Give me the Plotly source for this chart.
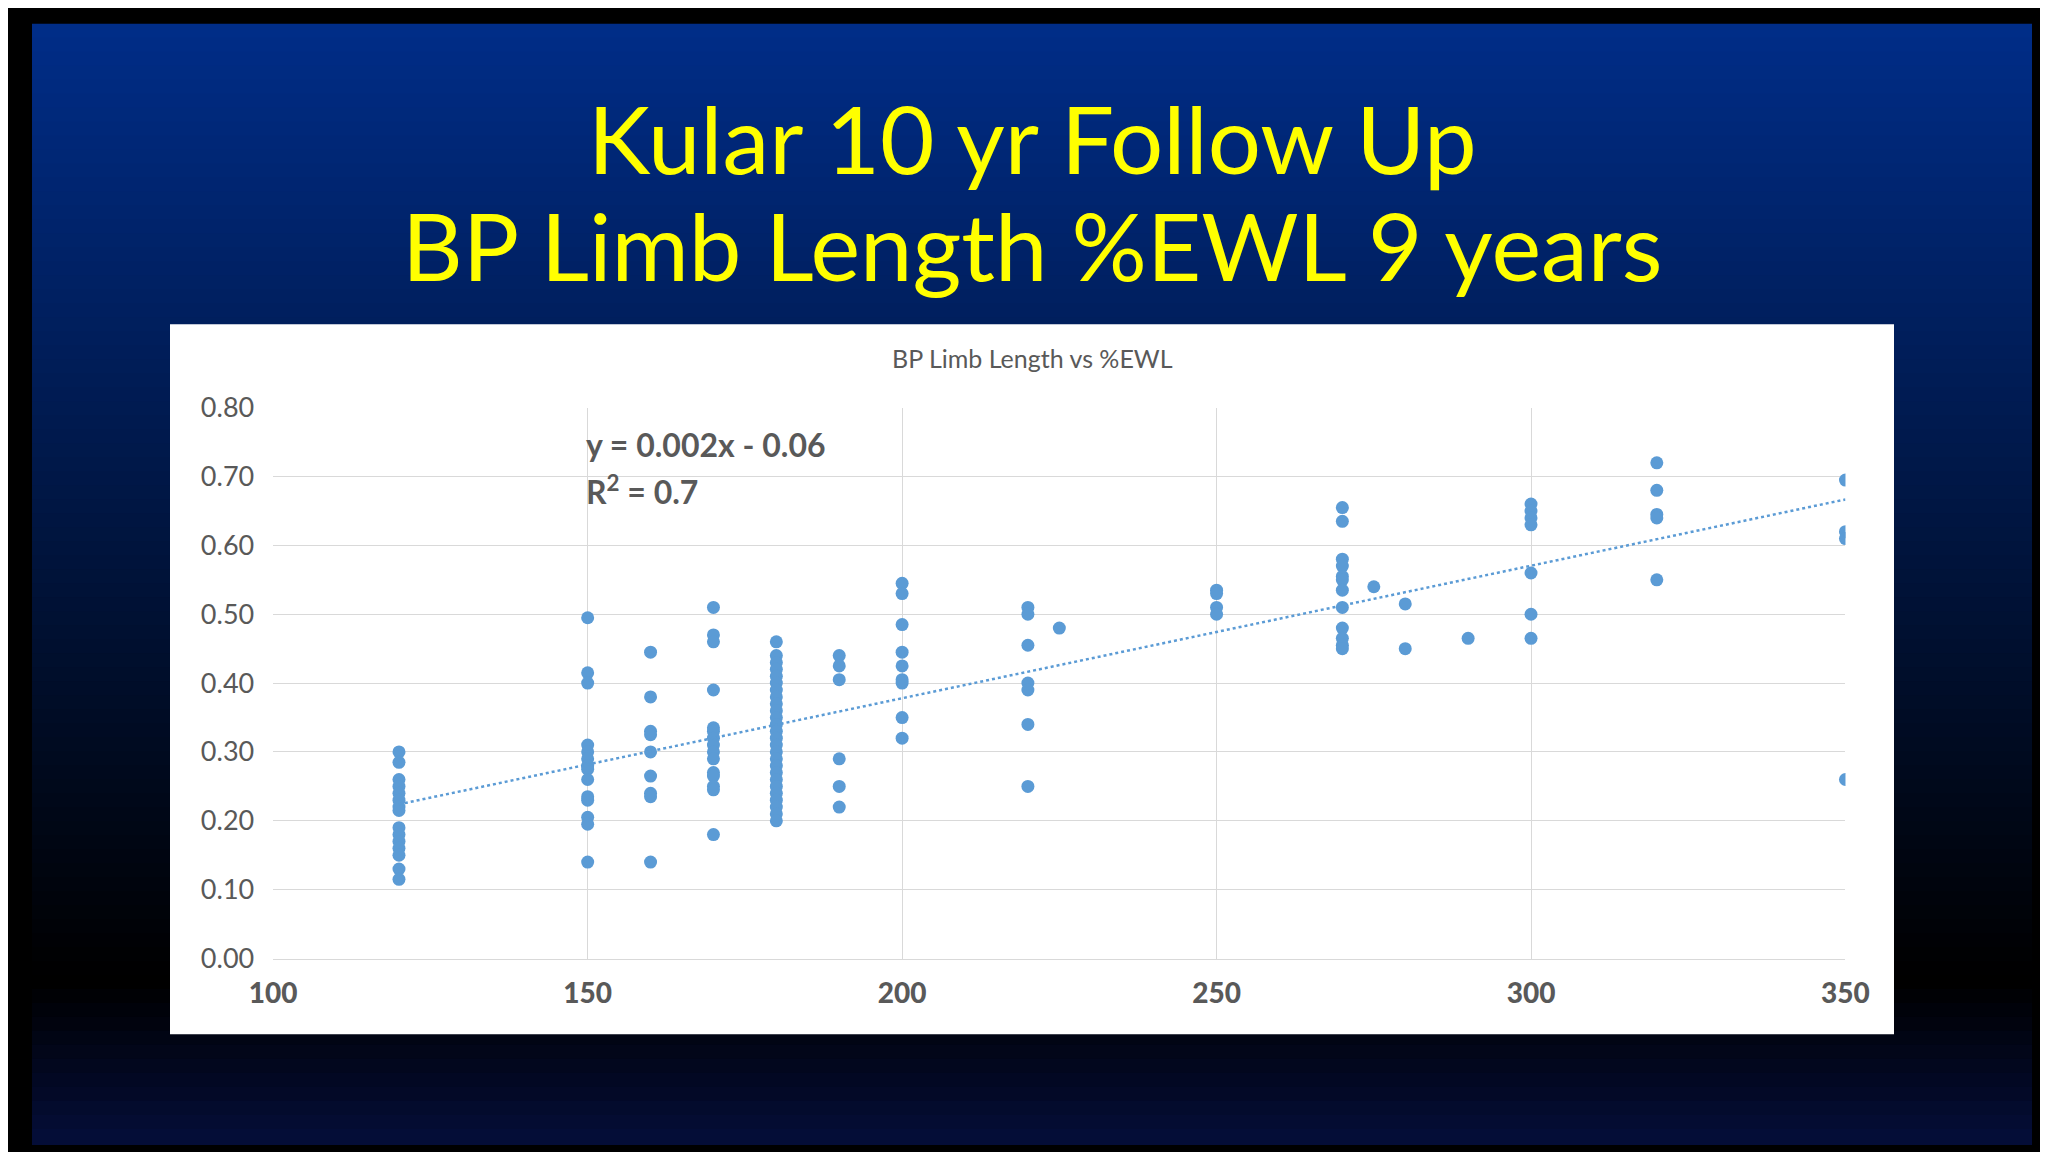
import numpy as np
import plotly.graph_objects as go

# limb length groups (cm) and %EWL values
x120 = [0.30, 0.285, 0.26, 0.25, 0.24, 0.23, 0.22, 0.215, 0.19, 0.18, 0.17, 0.16, 0.15, 0.13, 0.115]
x150 = [0.495, 0.415, 0.40, 0.31, 0.30, 0.29, 0.28, 0.275, 0.26, 0.235, 0.23, 0.205, 0.195, 0.14]
x160 = [0.445, 0.38, 0.33, 0.325, 0.30, 0.265, 0.24, 0.235, 0.14]
x170 = [0.51, 0.47, 0.46, 0.39, 0.335, 0.33, 0.32, 0.31, 0.30, 0.29, 0.27, 0.265, 0.25, 0.245, 0.18]
x180 = [0.46, 0.44, 0.43, 0.42, 0.41, 0.40, 0.39, 0.38, 0.37, 0.36, 0.35, 0.34, 0.33, 0.32,
        0.31, 0.30, 0.29, 0.28, 0.27, 0.26, 0.25, 0.24, 0.23, 0.22, 0.21, 0.20]
x190 = [0.44, 0.425, 0.405, 0.29, 0.25, 0.22]
x200 = [0.545, 0.53, 0.485, 0.445, 0.425, 0.405, 0.40, 0.35, 0.32]
x220 = [0.51, 0.50, 0.455, 0.40, 0.39, 0.34, 0.25]
x225 = [0.48]
x250 = [0.535, 0.53, 0.51, 0.50]
x270 = [0.655, 0.635, 0.58, 0.57, 0.555, 0.55, 0.535, 0.51, 0.48, 0.465, 0.455, 0.45]
x275 = [0.54]
x280 = [0.515, 0.45]
x290 = [0.465]
x300 = [0.66, 0.65, 0.64, 0.63, 0.56, 0.50, 0.465]
x320 = [0.72, 0.68, 0.645, 0.64, 0.55]
x350 = [0.695, 0.62, 0.61, 0.26]

groups = {120: x120, 150: x150, 160: x160, 170: x170, 180: x180, 190: x190, 200: x200,
          220: x220, 225: x225, 250: x250, 270: x270, 275: x275, 280: x280, 290: x290,
          300: x300, 320: x320, 350: x350}

xs, ys = [], []
for k, vals in groups.items():
    xs += [k] * len(vals)
    ys += vals

slope, icept = np.polyfit(xs, ys, 1)
tx = [min(xs), max(xs)]
ty = [slope * v + icept for v in tx]

blue = "#5B9BD5"
fig = go.Figure()
fig.add_trace(go.Scatter(x=xs, y=ys, mode="markers",
                         marker=dict(color=blue, size=13), showlegend=False))
fig.add_trace(go.Scatter(x=tx, y=ty, mode="lines",
                         line=dict(color=blue, width=2.5, dash="dot"), showlegend=False))

# slide background gradient: blue -> black -> dark blue
shapes = []
n = 80
for i in range(n):
    t = i / n  # 0 at top
    if t < 0.85:
        f = t / 0.85
        c = (0, int(45 * (1 - f)), int(135 * (1 - f)))
    else:
        f = (t - 0.85) / 0.15
        c = (int(5 * f), int(15 * f), int(60 * f))
    shapes.append(dict(type="rect", xref="paper", yref="paper", layer="below",
                       x0=0, x1=1, y0=1 - (i + 1) / n, y1=1 - i / n + 0.002,
                       fillcolor="rgb(%d,%d,%d)" % c, line=dict(width=0)))
shapes.append(dict(type="rect", xref="paper", yref="paper", layer="below",
                   x0=0.069, x1=0.931, y0=0.099, y1=0.7335,
                   fillcolor="white", line=dict(width=0)))

fig.update_layout(
    width=2048, height=1152,
    margin=dict(l=0, r=0, t=0, b=0),
    paper_bgcolor="black", plot_bgcolor="white",
    shapes=shapes,
    font=dict(family="Lato", color="#595959"),
    xaxis=dict(domain=[247 / 2048, 1857 / 2048], range=[100, 350], dtick=50,
               showgrid=True, gridcolor="#D9D9D9",
               zeroline=False, showline=True, linecolor="#D9D9D9",
               tickfont=dict(size=28, color="#595959", family="Lato Black"),
               ticks="", ticklabelstandoff=10),
    yaxis=dict(domain=[192 / 1152, 759 / 1152], range=[0, 0.8], dtick=0.1, tickformat=".2f",
               showgrid=True, gridcolor="#D9D9D9", zeroline=False, showline=False,
               tickfont=dict(size=27, color="#595959"), ticklabelstandoff=18),
    annotations=[
        dict(text="Kular 10 yr Follow Up", xref="paper", yref="paper", x=0.5, y=1 - 115 / 1152,
             showarrow=False, font=dict(size=94, color="#FFFF00", family="Lato"), yanchor="middle"),
        dict(text="BP Limb Length %EWL 9 years", xref="paper", yref="paper", x=0.5, y=1 - 225 / 1152,
             showarrow=False, font=dict(size=94, color="#FFFF00", family="Lato"), yanchor="middle"),
        dict(text="BP Limb Length vs %EWL", xref="paper", yref="paper", x=0.5, y=1 - 342 / 1152,
             showarrow=False, font=dict(size=25, color="#595959"), yanchor="middle"),
        dict(text="<b>y = 0.002x - 0.06</b>", xref="paper", yref="paper", x=565 / 2048, y=1 - 431 / 1152,
             showarrow=False, font=dict(size=32, color="#595959"), yanchor="middle"),
        dict(text="<b>R<sup>2</sup> = 0.7</b>", xref="paper", yref="paper", x=565 / 2048, y=1 - 478 / 1152,
             showarrow=False, font=dict(size=32, color="#595959"), yanchor="middle"),
    ],
)

fig.write_html("out.html")
